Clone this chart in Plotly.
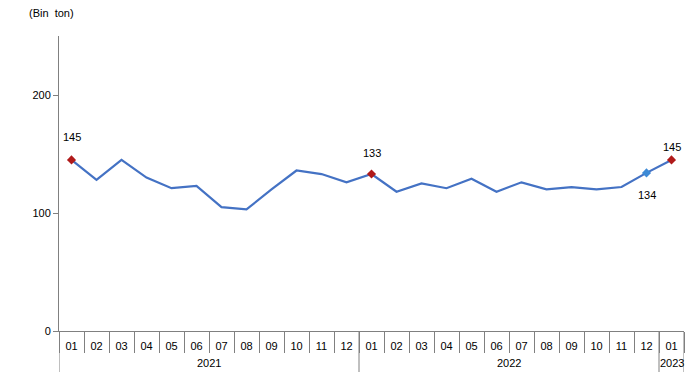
import plotly.graph_objects as go

years = ["2021"] * 12 + ["2022"] * 12 + ["2023"]
months = ["01", "02", "03", "04", "05", "06", "07", "08", "09", "10", "11", "12"] * 2 + ["01"]
values = [145, 128, 145, 130, 121, 123, 105, 103, 120, 136, 133, 126,
          133, 118, 125, 121, 129, 118, 126, 120, 122, 120, 122, 134, 145]

red_idx = [0, 12, 24]
blue_idx = [23]
label_idx = [0, 12, 24, 23]
label_shift = [23, 21, 13, -22]

FONT = "Liberation Sans, Arial, sans-serif"
GREY = "#808080"

cats = [f"{y}-{m}" for y, m in zip(years, months)]

fig = go.Figure()
fig.add_trace(go.Scatter(
    x=cats, y=values, mode="lines",
    line=dict(color="#4472C4", width=2.2), hoverinfo="skip", showlegend=False))
fig.add_trace(go.Scatter(
    x=[cats[i] for i in red_idx], y=[values[i] for i in red_idx], mode="markers",
    marker=dict(symbol="diamond", size=7, color="#B01A1A"), showlegend=False))
fig.add_trace(go.Scatter(
    x=[cats[i] for i in blue_idx], y=[values[i] for i in blue_idx], mode="markers",
    marker=dict(symbol="diamond", size=7, color="#3D8AD6"), showlegend=False))

for i, s in zip(label_idx, label_shift):
    fig.add_annotation(x=cats[i], y=values[i], xref="x", yref="y",
                       text=str(values[i]), showarrow=False, yshift=s,
                       font=dict(family=FONT, size=11, color="#000000"))

# year group labels and dividers
groups = []
for i, y in enumerate(years):
    if not groups or groups[-1][0] != y:
        groups.append([y, i, i])
    else:
        groups[-1][2] = i
for y, a, b in groups:
    fig.add_annotation(x=(a + b) / 2, y=0, xref="x", yref="paper",
                       text=y, showarrow=False, yanchor="middle", yshift=-32,
                       font=dict(family=FONT, size=11, color="#000000"))
    fig.add_shape(type="line", xref="x", yref="paper", x0=a - 0.5, x1=a - 0.5,
                  y0=0, y1=-0.139, line=dict(color=GREY, width=1))
fig.add_shape(type="line", xref="x", yref="paper",
              x0=groups[-1][2] + 0.5, x1=groups[-1][2] + 0.5,
              y0=0, y1=-0.139, line=dict(color=GREY, width=1))

fig.add_annotation(x=-0.0512, y=1.078, xref="paper", yref="paper",
                   xanchor="left", yanchor="middle",
                   text="(Bin  ton)", showarrow=False,
                   font=dict(family=FONT, size=11, color="#000000"))

fig.update_layout(
    width=691, height=376,
    margin=dict(l=59, r=7, t=36, b=45),
    paper_bgcolor="white", plot_bgcolor="white",
    font=dict(family=FONT, size=11, color="#000000"),
    showlegend=False,
)
fig.update_xaxes(
    type="category", range=[-0.5, 24.5], automargin=False,
    tickvals=cats, ticktext=months, tickson="boundaries",
    showline=True, linecolor=GREY, linewidth=1,
    ticks="outside", ticklen=21, tickcolor=GREY, ticklabelstandoff=5,
    showgrid=False, zeroline=False,
    tickfont=dict(family=FONT, size=11, color="#000000"),
)
fig.update_yaxes(
    range=[0, 250], tickvals=[0, 100, 200], automargin=False,
    showline=True, linecolor=GREY,
    linewidth=1, ticks="outside", ticklen=5, tickcolor=GREY,
    showgrid=False, zeroline=False,
    tickfont=dict(family=FONT, size=11, color="#000000"),
)

fig.write_html("out.html", config={"displayModeBar": False},
               post_script="document.body.style.margin='0';document.body.style.overflow='hidden';")
